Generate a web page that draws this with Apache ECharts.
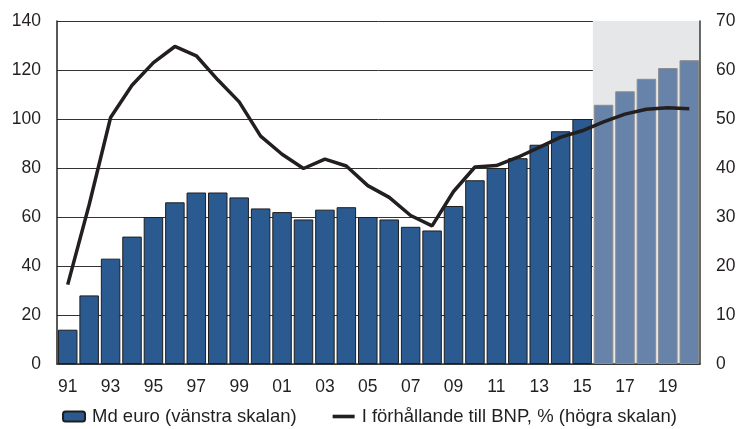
<!DOCTYPE html>
<html>
<head>
<meta charset="utf-8">
<script src="https://cdn.jsdelivr.net/npm/echarts@6/dist/echarts.min.js"></script>
<style>
html,body{margin:0;padding:0;background:#fff;}
#chart{width:739px;height:429px;}
</style>
</head>
<body>
<div id="chart"></div>
<script>
const years = ['91','92','93','94','95','96','97','98','99','00','01','02','03','04','05','06','07','08','09','10','11','12','13','14','15','16','17','18','19','20'];
const mdEuro = [14,28,43,52,60,66,70,70,68,63.5,62,59,63,64,60,59,56,54.5,64.5,75,80,84,89.5,95,100,105.8,111.3,116.4,120.8,124];
const shareOfGdp = [16.2,32.5,50.3,56.9,61.5,64.8,62.9,58,53.5,46.5,42.8,39.9,41.8,40.4,36.4,34,30.3,28.2,35.2,40.2,40.5,42.2,44.2,46.3,47.6,49.4,51,52,52.3,52.1];
const forecastStart = 25; // index of first forecast year (2016)

const barName = 'Md euro (vänstra skalan)';
const lineName = 'I förhållande till BNP, % (högra skalan)';

const barData = mdEuro.map((v, i) => i >= forecastStart
  ? { value: v, itemStyle: { color: '#6883a9', borderColor: '#8c8c8c' } }
  : v);

const chart = echarts.init(document.getElementById('chart'), null, {renderer: 'canvas'});
const font = 'Liberation Sans, Arial, sans-serif';
chart.setOption({
  animation: false,
  textStyle: { fontFamily: font },
  grid: { left: 57, right: 39, top: 21, bottom: 65 },
  legend: {
    data: [
      { name: barName },
      { name: lineName, icon: 'path://M0,0L22,0L22,3.6L0,3.6Z', itemStyle: { color: '#231f20', borderWidth: 0 } }
    ],
    bottom: 3,
    padding: 0,
    left: 'center',
    itemGap: 36,
    itemWidth: 22,
    itemHeight: 10,
    textStyle: { fontSize: 18.5, color: '#231f20', fontFamily: font, padding: [0, 0, 0, 2] }
  },
  xAxis: [
    {
      type: 'category',
      data: years,
      boundaryGap: true,
      axisLine: { show: true, lineStyle: { color: '#3a3a3a', width: 1.5 } },
      axisTick: { show: false },
      axisLabel: { interval: 1, fontSize: 17.5, color: '#231f20', margin: 14 },
      z: 1
    },
    {
      type: 'value',
      min: 0, max: 30,
      show: false
    }
  ],
  yAxis: [
    {
      type: 'value',
      min: 0, max: 140, interval: 20,
      axisLine: { show: true, lineStyle: { color: '#231f20', width: 1.5 } },
      axisTick: { show: false },
      axisLabel: { fontSize: 17.5, color: '#231f20', margin: 16 },
      splitLine: { show: true, lineStyle: { color: '#333', width: 1 } },
      z: 1
    },
    {
      type: 'value',
      min: 0, max: 70, interval: 10,
      axisLine: { show: true, lineStyle: { color: '#3a3a3a', width: 1.5 } },
      axisTick: { show: false },
      axisLabel: { fontSize: 17.5, color: '#231f20', margin: 16 },
      splitLine: { show: false },
      z: 1
    }
  ],
  series: [
    {
      name: 'shade',
      type: 'line',
      xAxisIndex: 1,
      yAxisIndex: 0,
      data: [[0, null]],
      symbol: 'none',
      z: 0,
      silent: true,
      markArea: {
        silent: true,
        itemStyle: { color: '#e6e7e9' },
        data: [[{ xAxis: forecastStart }, { xAxis: years.length }]]
      }
    },
    {
      name: barName,
      type: 'bar',
      data: barData,
      barCategoryGap: '9%',
      itemStyle: { color: '#2a5a8f', borderColor: '#1e1e1e', borderWidth: 1 },
      z: 2
    },
    {
      name: lineName,
      type: 'line',
      yAxisIndex: 1,
      data: shareOfGdp,
      symbol: 'none',
      lineStyle: { color: '#231f20', width: 3.5 },
      itemStyle: { color: '#231f20' },
      z: 3
    }
  ]
});
</script>
</body>
</html>
